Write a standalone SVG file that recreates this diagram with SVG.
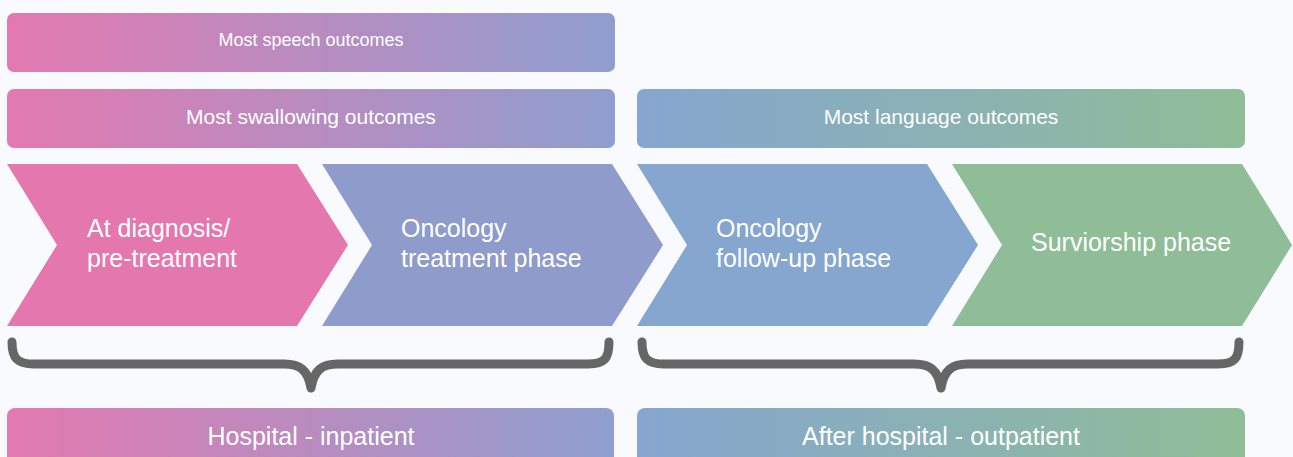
<svg xmlns="http://www.w3.org/2000/svg" width="1293" height="457" viewBox="0 0 1293 457">
  <defs>
    <linearGradient id="gradHospital" x1="0" y1="0" x2="1" y2="0">
      <stop offset="0" stop-color="#E279B0"/>
      <stop offset="1" stop-color="#8F9ECF"/>
    </linearGradient>
    <linearGradient id="gradAfter" x1="0" y1="0" x2="1" y2="0">
      <stop offset="0" stop-color="#85A6D1"/>
      <stop offset="1" stop-color="#8FBD96"/>
    </linearGradient>
    <style>
      .lbl { font-family: "Liberation Sans", Arial, sans-serif; fill: #ffffff; }
      .bar-sm { font-size: 18px; text-anchor: middle; }
      .bar-md { font-size: 21px; text-anchor: middle; }
      .bar-lg { font-size: 25px; text-anchor: middle; }
      .phase { font-size: 25px; }
      .brace { fill: none; stroke: #666666; stroke-width: 9; stroke-linecap: round; stroke-linejoin: round; }
    </style>
  </defs>

  <rect width="1293" height="457" fill="#F9FAFD"/>

  <!-- outcome bars -->
  <g id="speech">
    <rect x="7" y="13" width="608" height="59" rx="7" fill="url(#gradHospital)"/>
    <text class="lbl bar-sm" x="311" y="46">Most speech outcomes</text>
  </g>
  <g id="swallowing">
    <rect x="7" y="89" width="608" height="59" rx="7" fill="url(#gradHospital)"/>
    <text class="lbl bar-md" x="311" y="124">Most swallowing outcomes</text>
  </g>
  <g id="language">
    <rect x="637" y="89" width="608" height="59" rx="7" fill="url(#gradAfter)"/>
    <text class="lbl bar-md" x="941" y="124">Most language outcomes</text>
  </g>

  <!-- phase chevrons -->
  <g id="diagnosis">
    <polygon points="7,164 297,164 348,245 297,326 7,326 57,245" fill="#E477AE"/>
    <text class="lbl phase" x="87" y="237">At diagnosis/</text>
    <text class="lbl phase" x="87" y="267">pre-treatment</text>
  </g>
  <g id="treatment">
    <polygon points="322,164 612,164 663,245 612,326 322,326 372,245" fill="#8E9BCB"/>
    <text class="lbl phase" x="401" y="237">Oncology</text>
    <text class="lbl phase" x="401" y="267">treatment phase</text>
  </g>
  <g id="followup">
    <polygon points="637,164 927,164 978,245 927,326 637,326 687,245" fill="#84A6CF"/>
    <text class="lbl phase" x="716" y="237">Oncology</text>
    <text class="lbl phase" x="716" y="267">follow-up phase</text>
  </g>
  <g id="survivorship">
    <polygon points="952,164 1242,164 1292,245 1242,326 952,326 1002,245" fill="#8FBD97"/>
    <text class="lbl phase" x="1031" y="251">Surviorship phase</text>
  </g>

  <!-- grouping braces -->
  <g id="connectors">
    <path class="brace" d="M12,342 C12,358 17,364 34,364 H284 C300,364 308,370 311,388 C314,370 322,364 338,364 H588 C605,364 609,358 609,342"/>
    <path class="brace" d="M642,342 C642,358 647,364 664,364 H914 C930,364 938,370 941,388 C944,370 952,364 968,364 H1218 C1235,364 1239,358 1239,342"/>
  </g>

  <!-- care setting bars -->
  <g id="inpatient">
    <rect x="7" y="408" width="607" height="60" rx="8" fill="url(#gradHospital)"/>
    <text class="lbl bar-lg" x="311" y="445">Hospital - inpatient</text>
  </g>
  <g id="outpatient">
    <rect x="637" y="408" width="608" height="60" rx="8" fill="url(#gradAfter)"/>
    <text class="lbl bar-lg" x="941" y="445">After hospital - outpatient</text>
  </g>
</svg>
